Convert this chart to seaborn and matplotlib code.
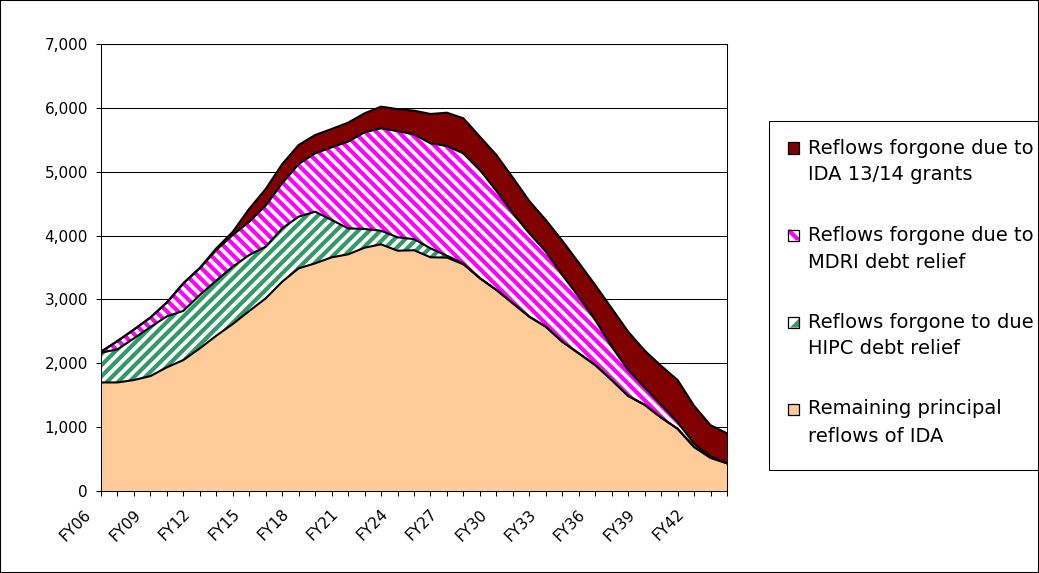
import matplotlib
matplotlib.use("Agg")
import numpy as np
import pandas as pd
import matplotlib.pyplot as plt
import seaborn as sns
from matplotlib.patches import Rectangle, Polygon
from matplotlib.transforms import ScaledTranslation
from matplotlib.ticker import FuncFormatter

# ---------------- data ----------------
years = ["FY06", "FY07", "FY08", "FY09", "FY10", "FY11", "FY12", "FY13", "FY14", "FY15",
         "FY16", "FY17", "FY18", "FY19", "FY20", "FY21", "FY22", "FY23", "FY24", "FY25",
         "FY26", "FY27", "FY28", "FY29", "FY30", "FY31", "FY32", "FY33", "FY34", "FY35",
         "FY36", "FY37", "FY38", "FY39", "FY40", "FY41", "FY42", "FY43", "FY44"]

remaining = [1700, 1700, 1738, 1800, 1937, 2051, 2234, 2432, 2615, 2819,
             3017, 3278, 3487, 3565, 3659, 3706, 3810, 3863, 3763, 3770,
             3660, 3655, 3550, 3330, 3148, 2939, 2730, 2573, 2338, 2156,
             1973, 1738, 1488, 1350, 1150, 975, 690, 520, 434]

hipc = [466, 518, 652, 768, 798, 770, 836, 864, 898, 877,
        809, 835, 809, 809, 585, 407, 293, 213, 210, 175,
        140, 30, 10, 5, 2, 1, 0, 0, 0, 0,
        0, 0, 0, 0, 0, 0, 0, 0, 0]

mdri = [14, 127, 137, 147, 215, 429, 417, 478, 496, 521,
        644, 707, 824, 914, 1138, 1358, 1514, 1604, 1662, 1640,
        1645, 1717, 1728, 1692, 1550, 1408, 1305, 1175, 1044, 887,
        705, 522, 407, 270, 200, 105, 50, 20, 0]

grants = [2, 5, 3, 3, 5, 5, 8, 26, 51, 203,
          260, 300, 298, 287, 287, 297, 297, 339, 345, 371,
          459, 522, 548, 521, 562, 559, 506, 496, 538, 532,
          548, 601, 600, 580, 610, 658, 595, 490, 469]

legend_labels = [
    ("Reflows forgone due to", "IDA 13/14 grants"),
    ("Reflows forgone due to", "MDRI debt relief"),
    ("Reflows forgone to due", "HIPC debt relief"),
    ("Remaining principal", "reflows of IDA"),
]

ORANGE = "#FFCC99"
GREEN = "#339966"
MAGENTA = "#FF00FF"
MAROON = "#800000"

# ---------------- style ----------------
sns.set_style("white")
plt.rcParams["font.family"] = ["DejaVu Sans"]
plt.rcParams["hatch.linewidth"] = 3.0
for k in ["text.color", "xtick.color", "ytick.color", "axes.labelcolor", "axes.edgecolor"]:
    plt.rcParams[k] = "black"

W, H, DPI = 1039, 573, 100
fig = plt.figure(figsize=(W / DPI, H / DPI), dpi=DPI)
fig.patch.set_facecolor("white")
ax = fig.add_axes([101 / W, 1 - 491 / H, (727 - 101) / W, (491 - 44) / H])

df = pd.DataFrame({"year": years, "remaining": remaining, "hipc": hipc,
                   "mdri": mdri, "grants": grants})
df["pos"] = np.arange(len(df))
df["c1"] = df["remaining"]
df["c2"] = df["c1"] + df["hipc"]
df["c3"] = df["c2"] + df["mdri"]
df["c4"] = df["c3"] + df["grants"]

x = df["pos"].to_numpy()
ax.fill_between(x, 0, df["c1"], facecolor=ORANGE, edgecolor="none", lw=0, zorder=2)
ax.fill_between(x, df["c1"], df["c2"], facecolor="white", edgecolor=GREEN, hatch="///", lw=0, zorder=2)
ax.fill_between(x, df["c2"], df["c3"], facecolor="white", edgecolor=MAGENTA, hatch="\\\\\\", lw=0, zorder=2)
ax.fill_between(x, df["c3"], df["c4"], facecolor=MAROON, edgecolor="none", lw=0, zorder=2)

for col in ["c1", "c2", "c3", "c4"]:
    sns.lineplot(data=df, x="pos", y=col, color="black", lw=1.5, ax=ax, zorder=3, legend=False)

ax.set_xlabel("")
ax.set_ylabel("")
ax.set_xlim(0, len(years) - 1)
ax.set_ylim(0, 7000)

ax.set_yticks(range(0, 7001, 1000))
ax.yaxis.set_major_formatter(FuncFormatter(lambda v, p: f"{int(v):,}"))
ax.grid(axis="y", color="black", lw=0.75, zorder=0)
ax.grid(axis="x", visible=False)
ax.set_axisbelow(True)

for s in ax.spines.values():
    s.set_visible(True)
    s.set_color("black")
    s.set_linewidth(0.75)

ax.set_xticks(x[::3], labels=years[::3])
ax.set_xticks(x, minor=True)

ax.tick_params(axis="y", which="major", direction="out", length=3.6, width=0.75,
               pad=5.8, labelsize=11, left=True)
ax.tick_params(axis="x", which="both", direction="out", length=3.6, width=0.75, bottom=True)
ax.tick_params(axis="x", which="major", pad=11.5, labelsize=11)

offset = ScaledTranslation(-0.12, 0, fig.dpi_scale_trans)
for lab in ax.get_xticklabels():
    lab.set_rotation(45)
    lab.set_ha("right")
    lab.set_va("center")
    lab.set_rotation_mode("anchor")
    lab.set_transform(lab.get_transform() + offset)

# ---------------- legend (manual, pixel layout) ----------------
def fx(px):
    return px / W

def fy(py):
    return 1 - py / H

fig.add_artist(Rectangle((fx(769), fy(470)), fx(1039) - fx(769), fy(121) - fy(470),
                         transform=fig.transFigure, fill=False, edgecolor="black", lw=0.75))

hx0, hx1 = 788, 799
for k, (l1, l2) in enumerate(legend_labels):
    y1 = 148 + 87 * k
    y2 = 175 + 87 * k
    fig.text(fx(808), fy(y1), l1, fontsize=14, va="center", ha="left")
    fig.text(fx(808), fy(y2), l2, fontsize=14, va="center", ha="left")
    yt, yb = y1 - 5.5, y1 + 5.5
    if k == 0:
        fc = MAROON
    elif k == 3:
        fc = ORANGE
    else:
        fc = "white"
    fig.add_artist(Rectangle((fx(hx0), fy(yb)), fx(hx1) - fx(hx0), fy(yt) - fy(yb),
                             transform=fig.transFigure, facecolor=fc, edgecolor="none"))
    if k == 1:
        pts = [(hx0, yt), (hx0 + 3, yt), (hx1, yb - 3), (hx1, yb), (hx1 - 3, yb), (hx0, yt + 3)]
        fig.add_artist(Polygon([(fx(a), fy(b)) for a, b in pts], closed=True,
                               transform=fig.transFigure, facecolor=MAGENTA, edgecolor="none"))
    if k == 2:
        pts = [(hx0 + 2, yb), (hx1, yt + 2), (hx1, yb)]
        fig.add_artist(Polygon([(fx(a), fy(b)) for a, b in pts], closed=True,
                               transform=fig.transFigure, facecolor=GREEN, edgecolor="none"))
    fig.add_artist(Rectangle((fx(hx0), fy(yb)), fx(hx1) - fx(hx0), fy(yt) - fy(yb),
                             transform=fig.transFigure, fill=False, edgecolor="black", lw=0.9))

# figure border
fig.add_artist(Rectangle((0, 0), 1, 1, transform=fig.transFigure, fill=False,
                         edgecolor="black", lw=1.5))

fig.savefig("out.png", dpi=DPI)
